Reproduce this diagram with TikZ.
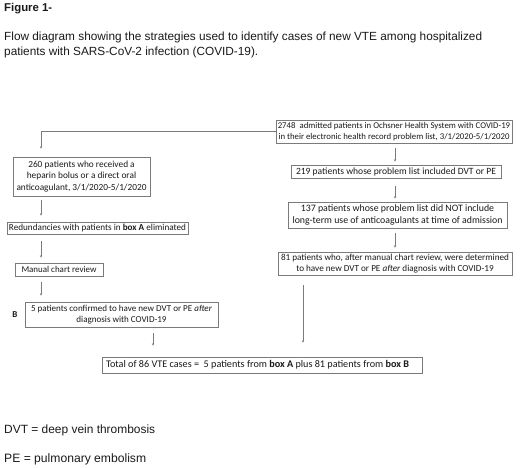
\documentclass[tikz,border=0pt]{standalone}
\usepackage{fontspec}
\setmainfont{Liberation Sans}
\newfontfamily\calib{Carlito}
\usetikzlibrary{arrows.meta}
\definecolor{linec}{HTML}{7A7A7A}
\definecolor{txt}{HTML}{1A1A1A}
\newlength\fitw
% #1 family, #2 target width (pt), #3 sample line, #4 line spacing factor
\newcommand\fitfont[4]{\settowidth\fitw{#1\fontsize{10pt}{12pt}\selectfont #3}%
  \pgfmathsetmacro\fsz{10*#2/\fitw}\pgfmathsetmacro\fbs{#4*\fsz}%
  #1\fontsize{\fsz pt}{\fbs pt}\selectfont}
\begin{document}
\begin{tikzpicture}[x=1pt,y=-1pt,
  box/.style={draw=linec, line width=0.8pt, align=center, inner xsep=1pt, inner ysep=0.5pt, text=txt},
  arr/.style={draw=linec, line width=0.6pt, -{Stealth[length=2.4pt,width=2.4pt]}, shorten <=5pt, shorten >=3pt},
  lab/.style={anchor=base west, inner sep=0pt, text=txt}]
\useasboundingbox (0,0) rectangle (520,467);
\fill[white] (0,0) rectangle (520,467);
% texts
\node[lab, font={\fitfont{\bfseries}{48}{Figure 1-}{1.2}}] (fig) at (4,11.3) {Figure 1-};
\node[lab, font={\fitfont{}{478}{Flow diagram showing the strategies used to identify cases of new VTE among hospitalized}{1.2}}] (cap1) at (4,40.6) {Flow diagram showing the strategies used to identify cases of new VTE among hospitalized};
\node[lab, font={\fitfont{}{478}{Flow diagram showing the strategies used to identify cases of new VTE among hospitalized}{1.2}}] (cap2) at (4,55.3) {patients with SARS-CoV-2 infection (COVID-19).};
\node[lab, font={\fitfont{}{151}{DVT = deep vein thrombosis}{1.2}}] (dvt) at (4,433.6) {DVT = deep vein thrombosis};
\node[lab, font={\fitfont{}{142}{PE = pulmonary embolism}{1.2}}] (pe) at (4,462) {PE = pulmonary embolism};
% column coordinates
\coordinate (xl) at (41,0);
\coordinate (xr) at (395,0);
\coordinate (xb) at (303,0);
\coordinate (x5) at (153,0);
% boxes
\node[box, minimum width=236pt, minimum height=23pt, font={\fitfont{\calib}{231}{in their electronic health record problem list, 3/1/2020-5/1/2020}{1.2}}] (a) at (394,131.5) {2748~ admitted patients in Ochsner Health System with COVID-19\\in their electronic health record problem list, 3/1/2020-5/1/2020};
\node[box, minimum width=210pt, minimum height=13pt, font={\fitfont{\calib}{200}{219 patients whose problem list included DVT or PE}{1.2}}] (b219) at (396,171.5) {219 patients whose problem list included DVT or PE};
\node[box, minimum width=219pt, minimum height=26pt, font={\fitfont{\calib}{210}{long-term use of anticoagulants at time of admission}{1.22}}] (b137) at (397.5,215) {137 patients whose problem list did NOT include\\long-term use of anticoagulants at time of admission};
\node[box, minimum width=234pt, minimum height=23pt, font={\fitfont{\calib}{228}{81 patients who, after manual chart review, were determined}{1.2}}] (b81) at (395,263.5) {81 patients who, after manual chart review, were determined\\to have new DVT or PE \textit{after} diagnosis with COVID-19};
\node[box, minimum width=137pt, minimum height=39pt, font={\fitfont{\calib}{130}{anticoagulant, 3/1/2020-5/1/2020}{1.22}}] (b260) at (81.5,176.5) {260 patients who received a\\heparin bolus or a direct oral\\anticoagulant, 3/1/2020-5/1/2020};
\node[box, minimum width=181pt, minimum height=12pt, font={\fitfont{\calib}{177}{Redundancies with patients in \textbf{box A} eliminated}{1.2}}] (red) at (97.5,228) {Redundancies with patients in \textbf{box A} eliminated};
\node[box, minimum width=88pt, minimum height=13pt, font={\fitfont{\calib}{75}{Manual chart review}{1.2}}] (man) at (59,269.5) {Manual chart review};
\node[box, minimum width=193pt, minimum height=25pt, font={\fitfont{\calib}{181}{5 patients confirmed to have new DVT or PE \textit{after}}{1.2}}] (b5) at (121.5,314.5) {5 patients confirmed to have new DVT or PE \textit{after}\\diagnosis with COVID-19};
\node[font=\calib\bfseries\fontsize{9}{10}\selectfont, text=txt, inner sep=0pt] (lb) at (15,315) {B};
\node[box, minimum width=320pt, minimum height=16pt, inner xsep=4pt, font={\fitfont{\calib}{303}{Total of 86 VTE cases =~ 5 patients from \textbf{box A} plus 81 patients from \textbf{box B}}{1.2}}] (tot) at (262,365) {\makebox[312pt][l]{Total of 86 VTE cases =~ 5 patients from \textbf{box A} plus 81 patients from \textbf{box B}}};
% connectors
\draw[arr, shorten <=0pt, shorten >=8pt] (a.west) -- (xl |- a.west) -- (xl |- b260.north);
\draw[arr, shorten <=4pt, shorten >=6pt] (b260.south -| xl) -- (red.north -| xl);
\draw[arr, shorten <=7pt, shorten >=5pt] (red.south -| xl) -- (man.north -| xl);
\draw[arr, shorten <=6pt, shorten >=6pt] (man.south -| xl) -- (b5.north -| xl);
\draw[arr] (a.south -| xr) -- (b219.north -| xr);
\draw[arr, shorten <=8pt, shorten >=3pt] (b219.south -| xr) -- (b137.north -| xr);
\draw[arr, shorten <=5pt, shorten >=4pt] (b137.south -| xr) -- (b81.north -| xr);
\draw[arr, shorten <=10pt, shorten >=14pt] (b81.south -| xb) -- (tot.north -| xb);
\draw[arr, shorten <=6pt, shorten >=11pt] (b5.south -| x5) -- (tot.north -| x5);
\end{tikzpicture}
\end{document}
